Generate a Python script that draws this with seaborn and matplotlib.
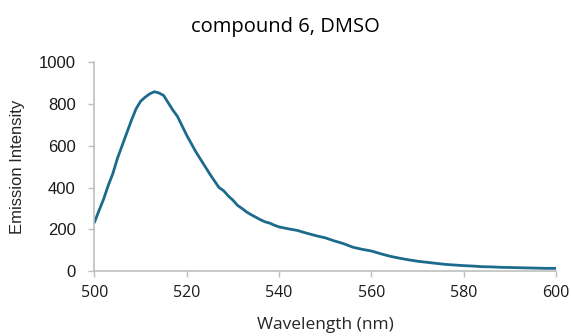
import matplotlib
matplotlib.use("Agg")
import matplotlib.pyplot as plt
import seaborn as sns
import pandas as pd

wavelength = [500, 501, 502, 503, 504, 505, 506, 507, 508, 509, 510, 511, 512, 513, 514,
              515, 516, 517, 518, 519, 520, 521, 522, 523, 524, 525, 526, 527, 528, 529,
              530, 531, 532, 533, 534, 535, 536, 537, 538, 539, 540, 542, 544, 546, 548,
              550, 552, 554, 556, 558, 560, 562, 564, 566, 568, 570, 572, 574, 576, 578,
              580, 582, 584, 586, 588, 590, 592, 594, 596, 598, 600]
intensity = [233, 290, 345, 410, 467, 540, 600, 660, 720, 775, 812, 832, 848, 858, 852,
             840, 805, 770, 740, 695, 650, 610, 570, 535, 500, 465, 432, 400, 385, 360,
             340, 315, 300, 283, 270, 258, 246, 236, 230, 220, 212, 203, 195, 182, 170,
             160, 145, 132, 115, 105, 97, 84, 72, 63, 55, 48, 43, 38, 33, 30,
             27, 25, 22, 21, 19, 18, 17, 16, 15, 14, 14]
x_ticks = [500, 520, 540, 560, 580, 600]
y_ticks = [0, 200, 400, 600, 800, 1000]

sns.set_theme(style="white")
plt.rcParams['font.family'] = ['Open Sans', 'DejaVu Sans']

df = pd.DataFrame({"Wavelength": wavelength, "Intensity": intensity})

fig = plt.figure(figsize=(5.71, 3.36), dpi=100)
ax = fig.add_axes([0.1653, 0.1926, 0.8084, 0.6229])
sns.lineplot(data=df, x="Wavelength", y="Intensity", ax=ax, color="#1c6a8c", linewidth=2.0)

ax.set_xlim(500, 600)
ax.set_ylim(0, 1000)
ax.set_xticks(x_ticks)
ax.set_yticks(y_ticks)
ax.tick_params(axis='x', length=4, width=1, direction='out', colors="#bfbfbf",
               labelcolor="#1a1a1a", labelsize=11.5, pad=6, bottom=True)
ax.tick_params(axis='y', length=4.5, width=1, direction='out', colors="#bfbfbf",
               labelcolor="#1a1a1a", labelsize=12, pad=9, left=True)
for lbl in ax.get_yticklabels():
    lbl.set_family(['Liberation Sans', 'DejaVu Sans'])
for s in ["top", "right"]:
    ax.spines[s].set_visible(False)
for s in ["left", "bottom"]:
    ax.spines[s].set_color("#bfbfbf")
    ax.spines[s].set_linewidth(1.2)

ax.set_xlabel("Wavelength (nm)", fontsize=12.5, color="#262626", va='center')
ax.xaxis.set_label_coords(0.5, -0.2566)
ax.set_ylabel("Emission Intensity", fontsize=12, color="#262626", va='center',
              family=['Liberation Sans', 'DejaVu Sans'])
ax.yaxis.set_label_coords(-0.1655, 0.5)
fig.text(0.5, 1 - 27 / 336, "compound 6, DMSO", fontsize=14.5, color="#000000",
         ha='center', va='center')
ax.grid(False)

fig.savefig("out.png", dpi=100)
